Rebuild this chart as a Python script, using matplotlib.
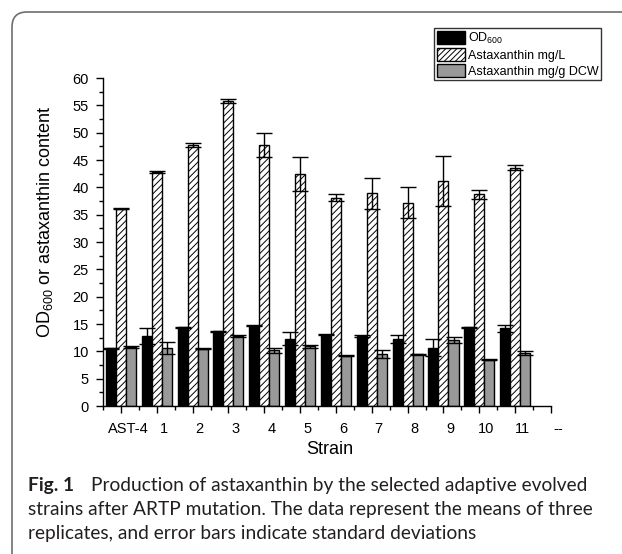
import matplotlib
matplotlib.use("Agg")
import matplotlib.pyplot as plt
import matplotlib.transforms as mtransforms
from matplotlib.patches import Patch, FancyBboxPatch
from matplotlib.ticker import MultipleLocator
import numpy as np

plt.rcParams['font.family'] = ['Liberation Sans', 'DejaVu Sans']
plt.rcParams['mathtext.default'] = 'regular'
plt.rcParams['hatch.linewidth'] = 0.7

# data
strains = ["AST-4", "1", "2", "3", "4", "5", "6", "7", "8", "9", "10", "11"]
od600 = [10.6, 12.8, 14.4, 13.7, 14.7, 12.3, 13.0, 12.8, 12.3, 10.7, 14.4, 14.2]
od600_sd = [0.1, 1.4, 0.1, 0.1, 0.1, 1.2, 0.1, 0.1, 0.7, 1.6, 0.1, 0.7]
asta_mgL = [36.1, 42.8, 47.8, 55.8, 47.8, 42.5, 38.1, 38.9, 37.2, 41.1, 38.7, 43.6]
asta_mgL_sd = [0.1, 0.1, 0.4, 0.35, 2.2, 3.1, 0.6, 2.8, 2.8, 4.6, 0.9, 0.4]
asta_mgg = [10.8, 10.6, 10.5, 12.8, 10.2, 10.9, 9.2, 9.5, 9.5, 12.1, 8.5, 9.7]
asta_mgg_sd = [0.1, 1.1, 0.1, 0.1, 0.5, 0.3, 0.1, 0.7, 0.1, 0.5, 0.1, 0.3]
tick_labels = strains + ["--"]

W, H = 622, 554
fig = plt.figure(figsize=(W / 100, H / 100), dpi=100)
ax = fig.add_axes([103 / W, 1 - 406 / H, 448 / W, 328 / H])

x = np.arange(len(strains))
bw = 0.28
err_kw = dict(ecolor='black', elinewidth=1.0, capsize=5.5, capthick=1.0)
ax.bar(x - bw, od600, bw, yerr=od600_sd, color='black', edgecolor='black',
       linewidth=1.0, error_kw=err_kw)
ax.bar(x, asta_mgL, bw, yerr=asta_mgL_sd, color='white', edgecolor='black',
       hatch='/////', linewidth=1.0, error_kw=err_kw)
ax.bar(x + bw, asta_mgg, bw, yerr=asta_mgg_sd, color='#999999', edgecolor='black',
       linewidth=1.0, error_kw=err_kw)

ax.set_xlim(-0.5, 12)
ax.set_ylim(0, 60)
ax.spines['top'].set_visible(False)
ax.spines['right'].set_visible(False)
for s in ('left', 'bottom'):
    ax.spines[s].set_linewidth(1.0)

ax.set_xticks(np.arange(len(tick_labels)))
ax.set_xticklabels(tick_labels)
ax.xaxis.set_minor_locator(MultipleLocator(0.5))
ax.yaxis.set_major_locator(MultipleLocator(5))
ax.yaxis.set_minor_locator(MultipleLocator(2.5))
ax.tick_params(axis='both', which='major', length=5.2, width=1.0, labelsize=10.5)
ax.tick_params(axis='both', which='minor', length=3, width=1.0)
ax.tick_params(axis='x', which='major', pad=6)
ax.tick_params(axis='y', which='major', pad=5)

# x labels in the original sit a little right of their ticks
shift = mtransforms.ScaledTranslation(7 / 100, 0, fig.dpi_scale_trans)
for lab in ax.get_xticklabels():
    lab.set_transform(lab.get_transform() + shift)

fig.text(330 / W, 1 - 450 / H, "Strain", fontsize=13, ha='center', va='center')
fig.text(45 / W, 1 - 222 / H, "OD$_{600}$ or astaxanthin content", fontsize=13,
         rotation=90, ha='center', va='center')

handles = [Patch(facecolor='black', edgecolor='black', label='OD$_{600}$'),
           Patch(facecolor='white', edgecolor='black', hatch='//////', label='Astaxanthin mg/L'),
           Patch(facecolor='#999999', edgecolor='black', label='Astaxanthin mg/g DCW')]
leg = fig.legend(handles=handles, loc='upper left', bbox_to_anchor=(434 / W, 1 - 28 / H),
                 fontsize=9, frameon=True, fancybox=False, borderpad=0.2,
                 labelspacing=0.2, handlelength=2.3, handleheight=1.2,
                 handletextpad=0.2, borderaxespad=0)
leg.get_frame().set_edgecolor('black')
leg.get_frame().set_linewidth(1.0)

# panel frame with rounded top-left corner
frame = FancyBboxPatch((0.12, -1), 10, H / 100 - 0.12 + 1,
                       boxstyle='round,pad=0,rounding_size=0.15',
                       transform=fig.dpi_scale_trans, fill=False,
                       edgecolor='#6e6e6e', linewidth=1.2, clip_on=False)
fig.add_artist(frame)

# caption
cap_font = ['Lato', 'DejaVu Sans']
cap_size = 13.8
cap_color = '#231f20'
fig.text(28 / W, 1 - 491 / H, "Fig. 1", family=cap_font, fontsize=cap_size,
         fontweight='bold', color=cap_color, va='baseline')
fig.text(91 / W, 1 - 491 / H, "Production of astaxanthin by the selected adaptive evolved",
         family=cap_font, fontsize=cap_size, color=cap_color, va='baseline')
fig.text(28 / W, 1 - 515 / H, "strains after ARTP mutation. The data represent the means of three",
         family=cap_font, fontsize=cap_size, color=cap_color, va='baseline')
fig.text(28 / W, 1 - 539 / H, "replicates, and error bars indicate standard deviations",
         family=cap_font, fontsize=cap_size, color=cap_color, va='baseline')

fig.savefig("out.png", dpi=100)
